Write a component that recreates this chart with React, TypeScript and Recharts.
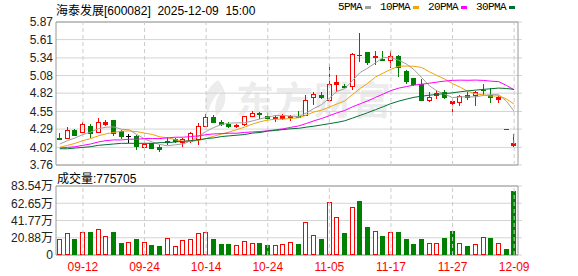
import React from "react";
import {
  Bar,
  CartesianGrid,
  ComposedChart,
  Line,
  ReferenceArea,
  ReferenceLine,
  XAxis,
  YAxis,
} from "recharts";

const stockName = "海泰发展";
const stockCode = "600082";
const quoteTime = "2025-12-09  15:00";
const lastVolume = 775705;

const dates = [
  "09-09", "09-10", "09-11", "09-12", "09-15", "09-16", "09-17", "09-18", "09-19", "09-22",
  "09-23", "09-24", "09-25", "09-26", "09-29", "09-30", "10-09", "10-10", "10-13", "10-14",
  "10-15", "10-16", "10-17", "10-20", "10-21", "10-22", "10-23", "10-24", "10-27", "10-28",
  "10-29", "10-30", "10-31", "11-03", "11-04", "11-05", "11-06", "11-07", "11-10", "11-11",
  "11-12", "11-13", "11-14", "11-17", "11-18", "11-19", "11-20", "11-21", "11-24", "11-25",
  "11-26", "11-27", "11-28", "12-01", "12-02", "12-03", "12-04", "12-05", "12-08", "12-09",
];
const tickDates = ["09-12", "09-24", "10-14", "10-24", "11-05", "11-17", "11-27", "12-09"];

const opens = [
  4.16, 4.16, 4.28, 4.24, 4.34, 4.25, 4.37, 4.42, 4.26, 4.19,
  4.19, 4.02, 4.08, 4.03, 4.12, 4.14, 4.10, 4.12, 4.14, 4.33,
  4.47, 4.39, 4.37, 4.33, 4.36, 4.49, 4.52, 4.49, 4.45, 4.46,
  4.47, 4.48, 4.50, 4.76, 4.80, 4.72, 4.95, 4.93, 4.93, 5.39,
  5.42, 5.35, 5.32, 5.31, 5.37, 5.14, 5.04, 4.96, 4.72, 4.79,
  4.84, 4.68, 4.69, 4.80, 4.79, 4.87, 4.80, 4.74, 4.29, 4.06,
];
const highs = [
  4.23, 4.32, 4.29, 4.39, 4.36, 4.46, 4.42, 4.43, 4.28, 4.22,
  4.21, 4.09, 4.09, 4.06, 4.17, 4.16, 4.16, 4.24, 4.38, 4.51,
  4.50, 4.43, 4.40, 4.37, 4.49, 4.56, 4.54, 4.52, 4.50, 4.51,
  4.50, 4.56, 4.80, 4.83, 4.83, 5.25, 5.09, 4.95, 5.41, 5.71,
  5.43, 5.44, 5.44, 5.44, 5.38, 5.16, 5.05, 5.03, 4.83, 4.87,
  4.87, 4.73, 4.80, 4.83, 4.85, 4.95, 4.89, 4.78, 4.29, 4.22,
];
const lows = [
  4.13, 4.15, 4.19, 4.23, 4.16, 4.23, 4.34, 4.19, 4.15, 4.09,
  3.98, 4.00, 4.00, 3.95, 4.06, 4.08, 4.03, 4.09, 4.05, 4.32,
  4.38, 4.33, 4.31, 4.30, 4.33, 4.48, 4.44, 4.42, 4.40, 4.43,
  4.41, 4.47, 4.48, 4.65, 4.73, 4.70, 4.84, 4.89, 4.86, 5.28,
  5.24, 5.23, 5.31, 5.19, 5.06, 4.96, 4.92, 4.70, 4.69, 4.74,
  4.73, 4.49, 4.63, 4.72, 4.63, 4.80, 4.68, 4.67, 4.29, 4.03,
];
const closes = [
  4.15, 4.28, 4.21, 4.36, 4.23, 4.39, 4.40, 4.23, 4.19, 4.19,
  4.04, 4.07, 4.01, 4.00, 4.10, 4.11, 4.14, 4.23, 4.33, 4.47,
  4.40, 4.36, 4.33, 4.35, 4.48, 4.53, 4.51, 4.46, 4.47, 4.48,
  4.49, 4.47, 4.72, 4.81, 4.77, 4.96, 4.98, 4.91, 5.40, 5.38,
  5.28, 5.37, 5.31, 5.37, 5.20, 5.00, 4.95, 4.72, 4.77, 4.82,
  4.76, 4.70, 4.78, 4.76, 4.83, 4.86, 4.76, 4.77, 4.29, 4.08,
];
const closeBeforeFirst = 4.12;

// volume in 万
const volumes = [
  19.4, 26.6, 19.4, 27.4, 27.8, 31.5, 23.0, 28.2, 14.5, 15.7,
  19.4, 15.7, 12.1, 10.9, 20.6, 10.9, 18.2, 19.4, 26.6, 27.8,
  19.4, 13.8, 13.8, 12.1, 17.0, 14.6, 15.0, 12.6, 12.1, 13.4,
  15.8, 13.8, 40.0, 24.3, 19.8, 64.4, 46.0, 27.0, 58.0, 64.8,
  34.4, 29.0, 23.5, 28.0, 28.3, 19.8, 13.8, 19.8, 15.0, 15.0,
  21.0, 29.6, 15.0, 11.3, 13.8, 21.9, 21.0, 15.0, 7.7, 77.57,
];

const ma5 = [
  4.07, 4.12, 4.16, 4.21, 4.246, 4.294, 4.318, 4.322, 4.288, 4.28,
  4.21, 4.144, 4.1, 4.062, 4.044, 4.058, 4.072, 4.116, 4.182, 4.256,
  4.314, 4.358, 4.378, 4.382, 4.384, 4.41, 4.44, 4.466, 4.49, 4.49,
  4.482, 4.474, 4.526, 4.594, 4.652, 4.746, 4.848, 4.886, 5.004, 5.126,
  5.19, 5.268, 5.348, 5.342, 5.306, 5.25, 5.166, 5.048, 4.928, 4.852,
  4.804, 4.754, 4.766, 4.764, 4.766, 4.786, 4.798, 4.796, 4.702, 4.552,
];
const ma10 = [
  4.02, 4.05, 4.08, 4.12, 4.15, 4.19, 4.22, 4.24, 4.26, 4.263,
  4.252, 4.231, 4.211, 4.175, 4.162, 4.134, 4.108, 4.108, 4.122, 4.15,
  4.186, 4.215, 4.247, 4.282, 4.32, 4.362, 4.399, 4.422, 4.436, 4.437,
  4.446, 4.457, 4.496, 4.542, 4.571, 4.614, 4.661, 4.706, 4.799, 4.889,
  4.968, 5.058, 5.117, 5.173, 5.216, 5.22, 5.217, 5.198, 5.135, 5.079,
  5.027, 4.96, 4.907, 4.846, 4.809, 4.795, 4.776, 4.781, 4.733, 4.659,
];
const ma20 = [
  4.01, 4.02, 4.03, 4.05, 4.07, 4.1, 4.12, 4.13, 4.13, 4.14,
  4.14, 4.15, 4.15, 4.15, 4.16, 4.17, 4.17, 4.18, 4.19, 4.207,
  4.219, 4.223, 4.229, 4.229, 4.241, 4.248, 4.254, 4.265, 4.279, 4.294,
  4.316, 4.336, 4.372, 4.412, 4.446, 4.488, 4.53, 4.564, 4.618, 4.663,
  4.707, 4.758, 4.807, 4.858, 4.894, 4.917, 4.939, 4.952, 4.967, 4.984,
  4.998, 5.009, 5.012, 5.01, 5.013, 5.008, 4.997, 4.99, 4.934, 4.869,
];
const ma30 = [
  4.0, 4.0, 4.01, 4.02, 4.03, 4.05, 4.06, 4.07, 4.08, 4.08,
  4.08, 4.08, 4.08, 4.09, 4.09, 4.1, 4.11, 4.12, 4.13, 4.15,
  4.16, 4.18, 4.19, 4.2, 4.21, 4.23, 4.24, 4.26, 4.27, 4.283,
  4.295, 4.301, 4.318, 4.333, 4.351, 4.37, 4.389, 4.412, 4.452, 4.492,
  4.533, 4.577, 4.62, 4.666, 4.702, 4.732, 4.759, 4.775, 4.79, 4.802,
  4.814, 4.825, 4.84, 4.854, 4.865, 4.876, 4.885, 4.895, 4.889, 4.876,
];

const priceTicks = [3.76, 4.02, 4.29, 4.55, 4.82, 5.08, 5.34, 5.61, 5.87];
const volumeTicks = [0, 20.88, 41.77, 62.65, 83.54];

const maSeries = [
  { key: "ma5", name: "5PMA", color: "#a0a0a0" },
  { key: "ma10", name: "10PMA", color: "#f0a30a" },
  { key: "ma20", name: "20PMA", color: "#ff00ff" },
  { key: "ma30", name: "30PMA", color: "#006f35" },
];

const RED = "#ff0000";
const GREEN = "#008000";

const rows = dates.map((date, i) => ({
  date,
  open: opens[i],
  high: highs[i],
  low: lows[i],
  close: closes[i],
  prevClose: i > 0 ? closes[i - 1] : closeBeforeFirst,
  range: [lows[i], highs[i]],
  vol: volumes[i],
  ma5: ma5[i],
  ma10: ma10[i],
  ma20: ma20[i],
  ma30: ma30[i],
}));

function candleColor(d: any) {
  if (d.close > d.open) return RED;
  if (d.close < d.open) return GREEN;
  if (d.close > d.prevClose) return RED;
  if (d.close < d.prevClose) return GREEN;
  return "#000";
}

function Candle(props: any) {
  const { x, y, width, height, payload } = props;
  if (x == null || y == null) return null;
  const color = candleColor(payload);
  const left = Math.round(x + width / 2 - 2.5);
  const cx = left + 2.5;
  const k = payload.high > payload.low ? height / (payload.high - payload.low) : 0;
  const yOf = (v: number) => y + (payload.high - v) * k;
  const top = Math.round(yOf(Math.max(payload.open, payload.close)));
  const bot = Math.round(yOf(Math.min(payload.open, payload.close)));
  const yHigh = Math.round(y);
  const yLow = Math.round(y + height);
  const hollow = payload.close > payload.open && bot - top > 2;

  return (
    <g>
      {yLow > yHigh && <line x1={cx} x2={cx} y1={yHigh} y2={yLow} stroke={color} strokeWidth={1} />}
      {bot - top < 1 ? (
        <line x1={left} x2={left + 5} y1={top + 0.5} y2={top + 0.5} stroke={color} strokeWidth={1} />
      ) : hollow ? (
        <rect x={left + 0.5} y={top + 0.5} width={4} height={bot - top} fill="#fff" stroke={color} strokeWidth={1} />
      ) : (
        <rect x={left} y={top} width={5} height={bot - top + 1} fill={color} />
      )}
    </g>
  );
}

function VolumeBar(props: any) {
  const { x, y, width, height, payload } = props;
  if (x == null || y == null) return null;
  const left = Math.round(x + width / 2 - 2.5);
  const top = Math.round(y);
  const bottom = Math.round(y + height);
  if (payload.close >= payload.prevClose) {
    return (
      <rect x={left + 0.5} y={top + 0.5} width={4} height={Math.max(bottom - top - 1, 0)} fill="#fff" stroke={RED} strokeWidth={1} />
    );
  }
  return <rect x={left} y={top} width={5} height={bottom - top} fill={GREEN} />;
}

const axisFont = { fontSize: 12, fontFamily: "'Liberation Sans', Arial, 'Noto Sans CJK SC', sans-serif" };

export default function App() {
  return (
    <div style={{ position: "fixed", left: 0, top: 0, width: 578, height: 276, background: "#fff", overflow: "hidden" }}>
      {/* watermark */}
      <div style={{ position: "absolute", left: 198, top: 70, display: "flex", alignItems: "center", color: "#ececec" }}>
        <svg width={36} height={40} viewBox="0 0 36 40">
          <path d="M20 2 C8 10 4 22 10 36 C12 26 16 18 24 12 C18 20 16 28 18 38 C28 30 32 16 20 2 Z" fill="#ececec" />
        </svg>
        <span style={{ fontSize: 38, fontWeight: 700, fontFamily: "'Noto Sans CJK SC', sans-serif", letterSpacing: 1, marginLeft: 2 }}>
          东方财富
        </span>
      </div>

      {/* title */}
      <div style={{ position: "absolute", left: 56, top: 1, whiteSpace: "pre", color: "#000", ...axisFont }}>
        {`${stockName}[${stockCode}]  ${quoteTime}`}
      </div>

      {/* legend */}
      <div style={{ position: "absolute", left: 338, top: 1, display: "flex", alignItems: "center", whiteSpace: "pre", fontFamily: "'Liberation Mono', monospace", fontSize: 11, letterSpacing: -0.6, color: "#000" }}>
        {maSeries.map((s) => (
          <span key={s.key} style={{ display: "flex", alignItems: "center", marginRight: 9 }}>
            <span>{s.name}</span>
            <span style={{ display: "inline-block", width: 6, height: 3, background: s.color, marginLeft: 3 }} />
          </span>
        ))}
      </div>

      {/* volume caption */}
      <div style={{ position: "absolute", left: 57, top: 169, color: "#000", ...axisFont }}>
        成交量:{lastVolume}
      </div>

      <div style={{ position: "absolute", left: 0, top: 0 }}>
        <ComposedChart width={578} height={276} data={rows} margin={{ top: 22, right: 56, bottom: 111, left: 0 }}>
          <CartesianGrid vertical={false} stroke="#d4d4d4" />
          {tickDates.map((d) => (
            <ReferenceLine key={d} x={d} stroke="#cccccc" strokeDasharray="4 3" />
          ))}
          <XAxis dataKey="date" type="category" hide height={0} padding={{ left: 0, right: 4 }} />
          <YAxis
            type="number"
            domain={[3.76, 5.87]}
            ticks={priceTicks}
            interval={0}
            allowDataOverflow
            width={56}
            axisLine={false}
            tickLine={false}
            tickSize={0}
            tickMargin={3}
            tick={{ ...axisFont, fill: "#222" }}
            tickFormatter={(v: number) => v.toFixed(2)}
          />
          <Bar dataKey="range" shape={Candle} barSize={5} isAnimationActive={false} />
          {maSeries.map((s) => (
            <Line
              key={s.key}
              dataKey={s.key}
              name={s.name}
              type="linear"
              stroke={s.color}
              strokeWidth={1}
              dot={false}
              isAnimationActive={false}
            />
          ))}
          <ReferenceArea y1={3.76} y2={5.87} fill="none" stroke="#9a9a9a" strokeWidth={1} />
        </ComposedChart>
      </div>

      <div style={{ position: "absolute", left: 0, top: 0 }}>
        <ComposedChart width={578} height={276} data={rows} margin={{ top: 186, right: 56, bottom: 0, left: 0 }}>
          <CartesianGrid vertical={false} stroke="#d4d4d4" />
          {tickDates.map((d) => (
            <ReferenceLine key={d} x={d} stroke="#cccccc" strokeDasharray="4 3" />
          ))}
          <XAxis
            dataKey="date"
            type="category"
            height={21}
            ticks={tickDates}
            interval={0}
            padding={{ left: 0, right: 4 }}
            axisLine={false}
            tickLine={false}
            tickSize={4}
            tickMargin={3}
            tick={{ ...axisFont, fill: RED }}
          />
          <YAxis
            type="number"
            domain={[0, 83.54]}
            ticks={volumeTicks}
            interval={0}
            allowDataOverflow
            width={56}
            axisLine={false}
            tickLine={false}
            tickSize={0}
            tickMargin={3}
            tick={{ ...axisFont, fill: "#222" }}
            tickFormatter={(v: number) => (v === 0 ? "0" : `${v.toFixed(2)}万`)}
          />
          <Bar dataKey="vol" shape={VolumeBar} barSize={5} isAnimationActive={false} />
          <ReferenceArea y1={0} y2={83.54} fill="none" stroke="#9a9a9a" strokeWidth={1} />
        </ComposedChart>
      </div>
    </div>
  );
}
